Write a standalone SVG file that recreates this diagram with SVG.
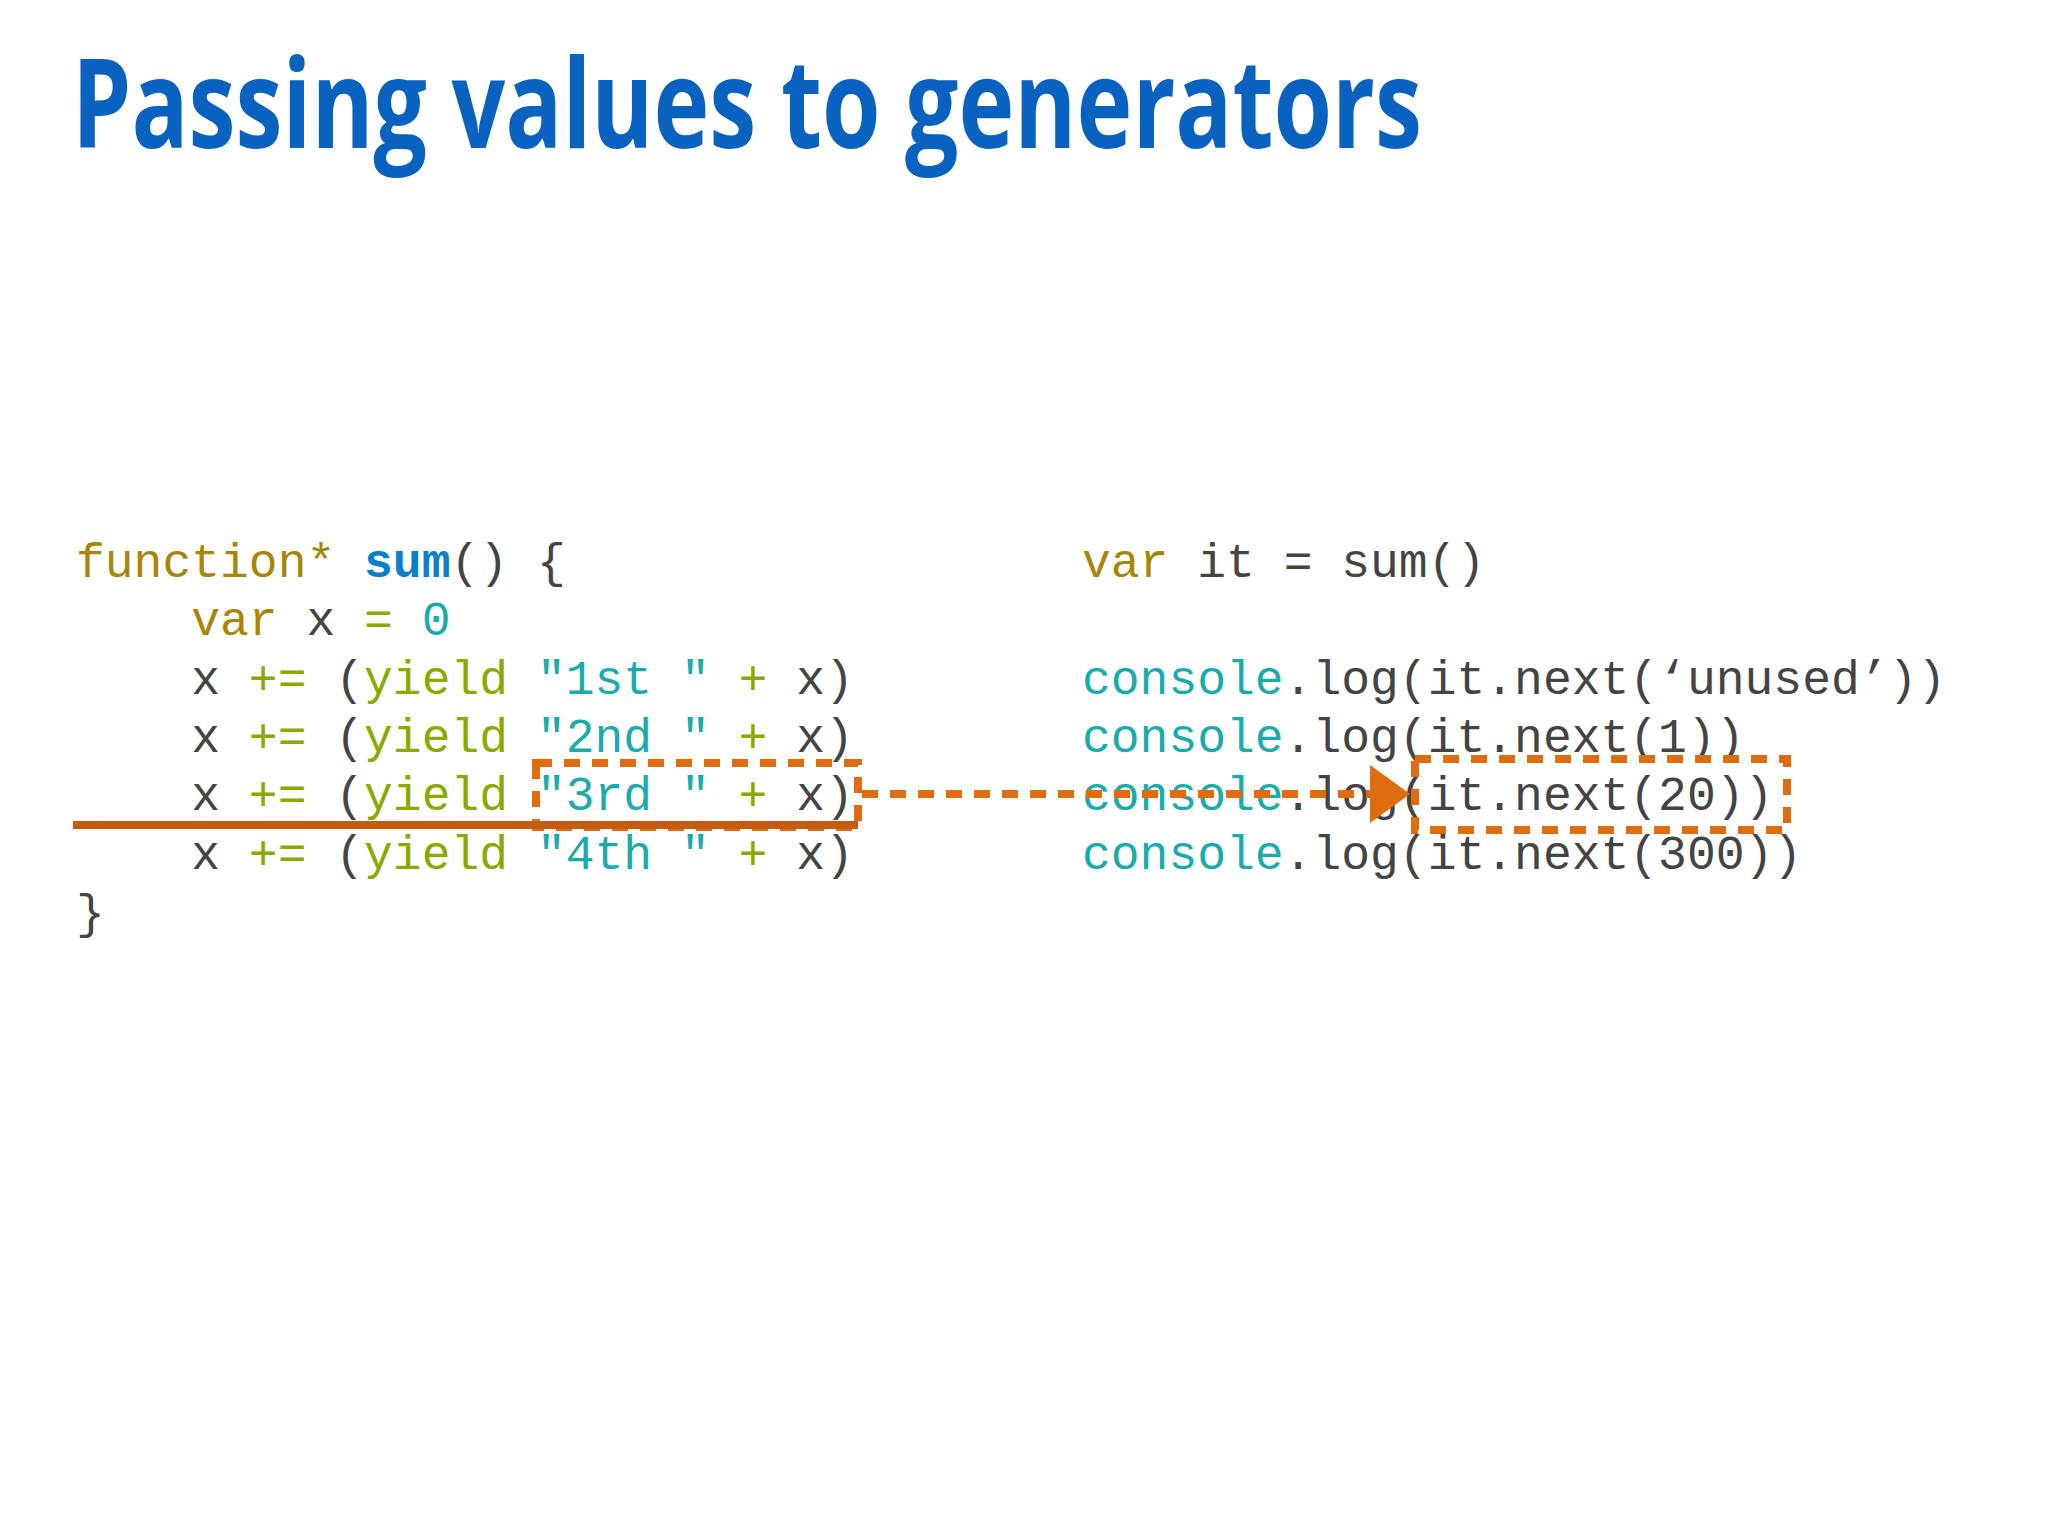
<svg xmlns="http://www.w3.org/2000/svg" width="2048" height="1536" viewBox="0 0 2048 1536">
<style>
.code{font-family:"Liberation Mono","Courier New",monospace;font-size:48px;fill:#444;white-space:pre}
.kw{fill:#a8860a}.fn{fill:#0a7fd0;font-weight:bold}.y{fill:#8aaa00}.s{fill:#1aacac}
.dash{fill:none;stroke:#e06c10;stroke-width:8;stroke-dasharray:16 12}
</style>
<rect width="2048" height="1536" fill="#fff"/>
<g id="title"><text x="72" y="148" font-family="Open Sans" font-weight="bold" font-size="124" fill="#0a62c0" textLength="1350" lengthAdjust="spacingAndGlyphs">Passing values to generators</text></g>
<g id="generator" class="code">
<text class="code" x="76" y="577"><tspan class="kw">function*</tspan> <tspan class="fn">sum</tspan>() {</text>
<text class="code" x="76" y="635">    <tspan class="kw">var</tspan> x <tspan class="y">=</tspan> <tspan class="s">0</tspan></text>
<text class="code" x="76" y="694">    x <tspan class="y">+=</tspan> (<tspan class="y">yield</tspan> <tspan class="s">"1st "</tspan> <tspan class="y">+</tspan> x)</text>
<text class="code" x="76" y="752">    x <tspan class="y">+=</tspan> (<tspan class="y">yield</tspan> <tspan class="s">"2nd "</tspan> <tspan class="y">+</tspan> x)</text>
<text class="code" x="76" y="810">    x <tspan class="y">+=</tspan> (<tspan class="y">yield</tspan> <tspan class="s">"3rd "</tspan> <tspan class="y">+</tspan> x)</text>
<text class="code" x="76" y="869">    x <tspan class="y">+=</tspan> (<tspan class="y">yield</tspan> <tspan class="s">"4th "</tspan> <tspan class="y">+</tspan> x)</text>
<text class="code" x="76" y="928">}</text>
</g>
<g id="caller">
<text class="code" x="1082" y="577"><tspan class="kw">var</tspan> it = sum()</text>
<text class="code" x="1082" y="694"><tspan class="s">console</tspan>.log(it.next(‘unused’))</text>
<text class="code" x="1082" y="752"><tspan class="s">console</tspan>.log(it.next(1))</text>
<text class="code" x="1082" y="810"><tspan class="s">console</tspan>.log(it.next(20))</text>
<text class="code" x="1082" y="869"><tspan class="s">console</tspan>.log(it.next(300))</text>
</g>
<g id="highlight-yield"><rect class="dash" x="536" y="763" width="322" height="64"/></g>
<g id="highlight-next"><rect class="dash" x="1415" y="759" width="372" height="71"/></g>
<g id="connectors">
<line x1="73" y1="825" x2="858" y2="825" stroke="#c55a11" stroke-width="8"/>
<line class="dash" x1="862" y1="794" x2="1375" y2="794"/>
<polygon points="1370,765 1410,794 1370,823" fill="#e06c10"/>
</g>
</svg>
